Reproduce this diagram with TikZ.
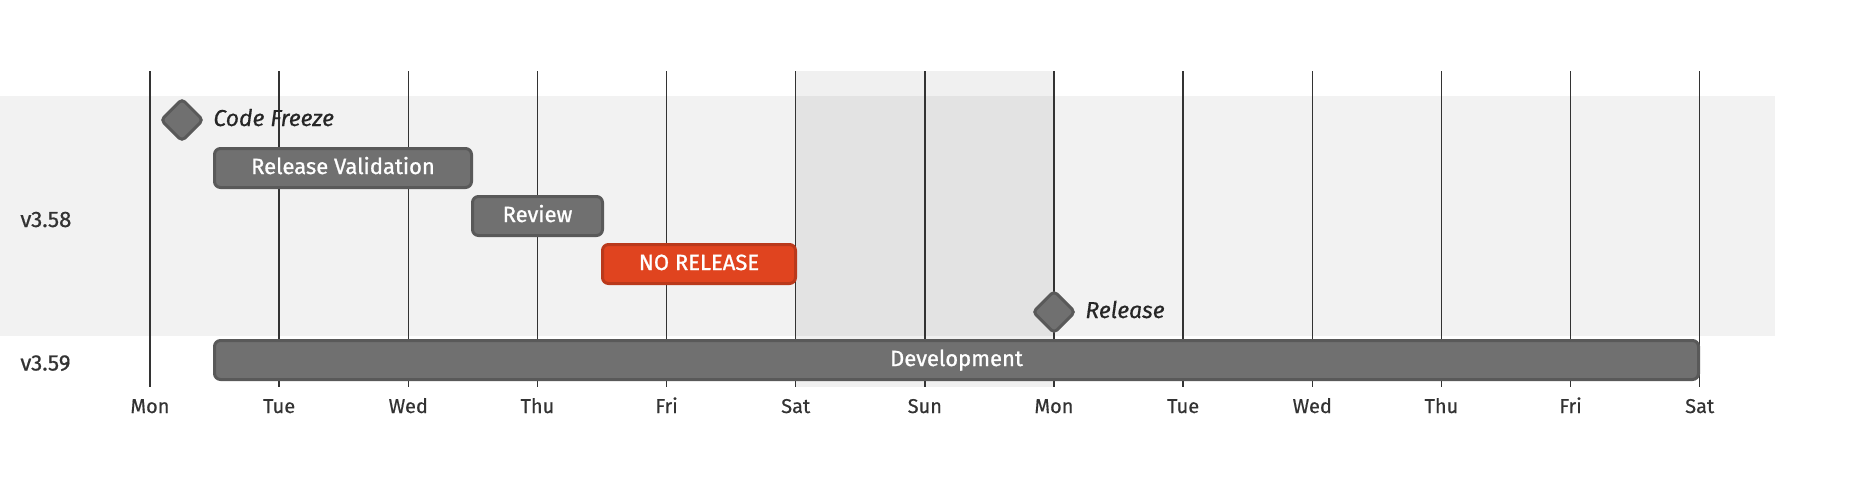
\documentclass[tikz,border=0pt]{standalone}
\usepackage{fontspec}
\setmainfont{Fira Sans}[FakeBold=0.5]
\newfontfamily\taskfont{Fira Sans}[FakeBold=1.0]
\usetikzlibrary{shapes.geometric}
\definecolor{bandc}{HTML}{F2F2F2}
\definecolor{taskfill}{HTML}{707070}
\definecolor{taskline}{HTML}{595959}
\definecolor{critfill}{HTML}{E0441F}
\definecolor{critline}{HTML}{BA391B}
\definecolor{gridc}{HTML}{333333}
\definecolor{txtc}{HTML}{333333}
\tikzset{
  capbox/.style={text height=0.7em, text depth=0pt},
  gridline/.style={draw=gridc, line width=0.75pt},
  ticklabel/.style={capbox, text=txtc, inner sep=0pt, font=\fontsize{10}{12}\selectfont},
  sectlabel/.style={capbox, text=txtc, inner sep=0pt, anchor=west, font=\fontsize{11.2}{13}\selectfont},
  taskbar/.style={draw=taskline, fill=taskfill, line width=1.5pt, rounded corners=3pt,
    minimum height=19.5pt, inner sep=0pt, text=white, text height=0.6em, text depth=0pt,
    font=\taskfont\fontsize{11}{13}\selectfont},
  critbar/.style={taskbar, draw=critline, fill=critfill},
  milestone/.style={shape=diamond, aspect=1, draw=taskline, fill=taskfill, line width=1.5pt,
    rounded corners=2pt, minimum size=21.5pt, inner sep=0pt},
  mslabel/.style={capbox, anchor=west, inner sep=0pt, text=black!85, font=\fontsize{11.5}{13}\selectfont\itshape},
}
\begin{document}
\begin{tikzpicture}[x=0.5pt,y=-0.5pt]
\useasboundingbox (0,0) rectangle (1850,488);
% section band
\fill[bandc] (0,95.5) rectangle (1775,336);
% weekend
\fill[black, opacity=0.06] (796,71) rectangle (1054,387);
% grid and ticks
\foreach \d [count=\i from 0] in {Mon,Tue,Wed,Thu,Fri,Sat,Sun,Mon,Tue,Wed,Thu,Fri,Sat}{
  \draw[gridline] ({150+\i*129.14},71) -- ({150+\i*129.14},387);
  \node[ticklabel] (tick\i) at ({150+\i*129.14},406) {\d};
}
% section labels
\node[sectlabel] (s1) at (20,220) {v3.58};
\node[sectlabel] (s2) at (20,363.5) {v3.59};
% tasks
\node[milestone] (cf) at (182,120) {};
\node[mslabel] (cflab) at (213,119) {Code Freeze};
\node[taskbar, minimum width=128.5pt] (rv) at (343,168) {Release Validation};
\node[taskbar, minimum width=65pt] (rev) at (537.5,216) {Review};
\node[critbar, minimum width=96.5pt] (nr) at (699,264) {NO RELEASE};
\node[milestone] (rel) at (1054,312) {};
\node[mslabel] (rellab) at (1085,311) {Release};
\node[taskbar, minimum width=742pt] (dev) at (956.5,360) {Development};
\end{tikzpicture}
\end{document}
